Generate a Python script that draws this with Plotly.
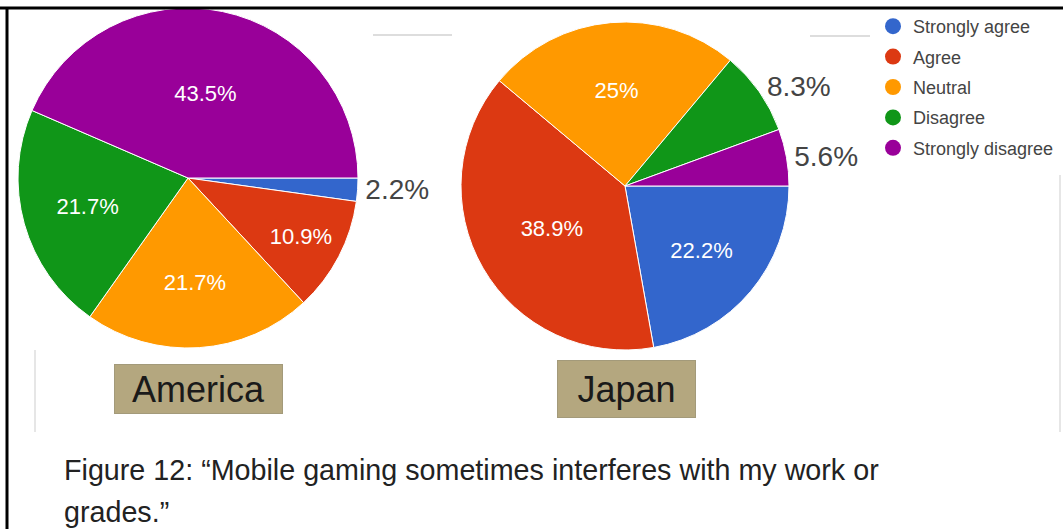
import plotly.graph_objects as go

# Survey answers, in legend order
categories = ["Strongly agree", "Agree", "Neutral", "Disagree", "Strongly disagree"]
colors = ["#3366cc", "#dc3912", "#ff9900", "#109618", "#990099"]

america_pct = [2.2, 10.9, 21.7, 21.7, 43.5]
japan_pct = [22.2, 38.9, 25, 8.3, 5.6]

america_pos = ["outside", "inside", "inside", "inside", "inside"]
japan_pos = ["inside", "inside", "inside", "outside", "outside"]

country_names = ["America", "Japan"]
caption_lines = [
    "Figure 12: \u201cMobile gaming sometimes interferes with my work or",
    "grades.\u201d",
]

W, H = 1063, 529
FONT = "Liberation Sans, Arial, sans-serif"


def px_x(x):
    return x / W


def px_y(y):
    return 1 - y / H


def pie(values, positions, cx, cy, r):
    return go.Pie(
        labels=categories,
        values=values,
        text=[f"{v:g}%" for v in values],
        textinfo="text",
        textposition=positions,
        insidetextorientation="horizontal",
        insidetextfont=dict(family=FONT, size=22, color="white"),
        outsidetextfont=dict(family=FONT, size=28, color="#444444"),
        marker=dict(colors=colors, line=dict(color="white", width=1)),
        sort=False,
        direction="clockwise",
        rotation=90,
        showlegend=False,
        hoverinfo="label+percent",
        domain=dict(x=[px_x(cx - r), px_x(cx + r)], y=[px_y(cy + r), px_y(cy - r)]),
    )


fig = go.Figure()
fig.add_trace(pie(america_pct, america_pos, 188, 178, 170))
fig.add_trace(pie(japan_pct, japan_pos, 625, 186, 164))

# Legend entries with round markers
for i, (name, col) in enumerate(zip(categories, colors)):
    fig.add_trace(go.Scatter(
        x=[None], y=[None], mode="markers", name=name,
        marker=dict(color=col, size=16, symbol="circle"),
        legendgroup=f"g{i}", hoverinfo="skip",
    ))

shapes = [
    # frame
    dict(type="line", x0=0, x1=W, y0=8, y1=8, line=dict(color="black", width=3)),
    dict(type="line", x0=7, x1=7, y0=8, y1=H, line=dict(color="black", width=3)),
    # faint chart container edges
    dict(type="line", x0=373, x1=452, y0=35, y1=35, line=dict(color="#dddddd", width=2)),
    dict(type="line", x0=810, x1=870, y0=36, y1=36, line=dict(color="#dddddd", width=2)),
    dict(type="line", x0=35, x1=35, y0=350, y1=432, line=dict(color="#e6e6e6", width=2)),
    dict(type="line", x0=1060, x1=1060, y0=175, y1=432, line=dict(color="#e6e6e6", width=2)),
]
for s in shapes:
    s.update(xref="paper", yref="paper")
    s["x0"], s["x1"] = px_x(s["x0"]), px_x(s["x1"])
    s["y0"], s["y1"] = px_y(s["y0"]), px_y(s["y1"])
    s["layer"] = "above"

annotations = []
# country tags under each pie
for name, cx, cy, w, h in [(country_names[0], 198.5, 389, 165, 46), (country_names[1], 626.5, 389, 135, 54)]:
    annotations.append(dict(
        text=name, x=px_x(cx), y=px_y(cy), xref="paper", yref="paper",
        xanchor="center", yanchor="middle", showarrow=False,
        width=w, height=h, bgcolor="#b4a77f", bordercolor="#a39a7a", borderwidth=1,
        font=dict(family=FONT, size=36, color="#1a1a1a"),
    ))
# caption
for line, y in zip(caption_lines, [470, 512]):
    annotations.append(dict(
        text=line, x=px_x(62), y=px_y(y), xref="paper", yref="paper",
        xanchor="left", yanchor="middle", showarrow=False,
        font=dict(family=FONT, size=28.7, color="#222222"),
    ))

fig.update_layout(
    width=W, height=H,
    margin=dict(l=0, r=0, t=0, b=0),
    paper_bgcolor="white", plot_bgcolor="white",
    xaxis=dict(visible=False), yaxis=dict(visible=False),
    legend=dict(
        x=px_x(873), y=px_y(8), xanchor="left", yanchor="top",
        font=dict(family=FONT, size=18, color="#444444"),
        traceorder="grouped", tracegroupgap=4, borderwidth=0,
        bgcolor="rgba(0,0,0,0)", itemclick=False,
    ),
    shapes=shapes, annotations=annotations,
)

fig.write_html("out.html")
